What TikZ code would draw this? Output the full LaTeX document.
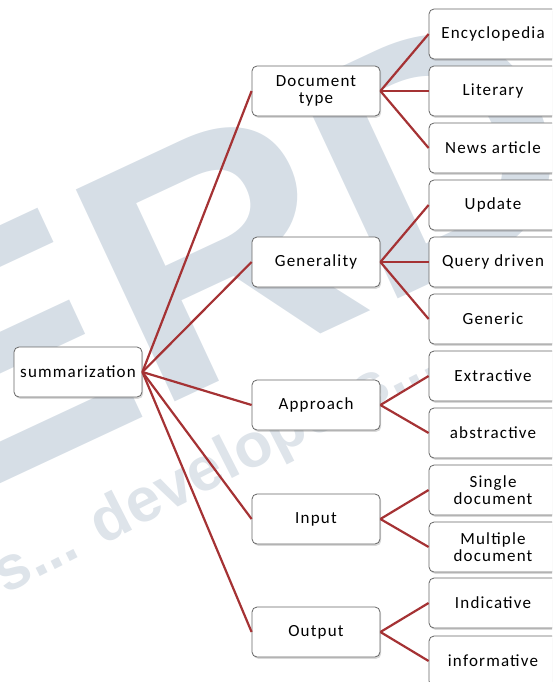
\documentclass[tikz,border=0pt]{standalone}
\usepackage{fontspec}
\setmainfont{Carlito}[LetterSpace=7]
\newfontfamily\wmfont{Liberation Sans}
\usetikzlibrary{shadows}
\definecolor{linkred}{RGB}{165,50,52}
\definecolor{wmark}{RGB}{214,222,230}
\definecolor{wmarklight}{RGB}{222,228,234}
\tikzset{
  box/.style={draw=gray!80!black, line width=0.8pt, fill=white, rounded corners=5pt,
    minimum width=128pt, minimum height=50pt, align=center, inner sep=2pt,
    font=\fontsize{17}{17.5}\selectfont,
    drop shadow={opacity=0.3, shadow xshift=1.2pt, shadow yshift=-1.8pt}},
  link/.style={draw=linkred, line width=2.2pt},
}
\begin{document}
\begin{tikzpicture}[x=1pt,y=-1pt]
\useasboundingbox (0,0) rectangle (552,682);
\clip (0,0) rectangle (552,682);
% watermark
\node[text=wmark, font=\wmfont\bfseries\fontsize{340}{340}\selectfont, rotate=25, inner sep=0pt] (wm1) at (225,250) {ERD};
\node[text=wmarklight, font=\wmfont\bfseries\fontsize{62}{62}\selectfont, rotate=27, inner sep=0pt] (wm2) at (205,475) {rs... developers...};
% nodes
\node[box] (root) at (78,372) {summarization};
\node[box] (doc) at (316,91) {Document\\type};
\node[box] (gen) at (316,262) {Generality};
\node[box] (app) at (316,405) {Approach};
\node[box] (inp) at (316,519) {Input};
\node[box] (out) at (316,632) {Output};
\node[box] (enc) at (493,34) {Encyclopedia};
\node[box] (lit) at (493,91) {Literary};
\node[box] (news) at (493,148) {News article};
\node[box] (upd) at (493,205) {Update};
\node[box] (qry) at (493,262) {Query driven};
\node[box] (gnr) at (493,319) {Generic};
\node[box] (ext) at (493,376) {Extractive};
\node[box] (abs) at (493,433) {abstractive};
\node[box] (sgl) at (493,490) {Single\\document};
\node[box] (mul) at (493,547) {Multiple\\document};
\node[box] (ind) at (493,603) {Indicative};
\node[box] (inf) at (493,661) {informative};
% links
\foreach \t in {doc,gen,app,inp,out} \draw[link] (root.east) -- (\t.west);
\foreach \t in {enc,lit,news} \draw[link] (doc.east) -- (\t.west);
\foreach \t in {upd,qry,gnr} \draw[link] (gen.east) -- (\t.west);
\foreach \t in {ext,abs} \draw[link] (app.east) -- (\t.west);
\foreach \t in {sgl,mul} \draw[link] (inp.east) -- (\t.west);
\foreach \t in {ind,inf} \draw[link] (out.east) -- (\t.west);
\end{tikzpicture}
\end{document}
